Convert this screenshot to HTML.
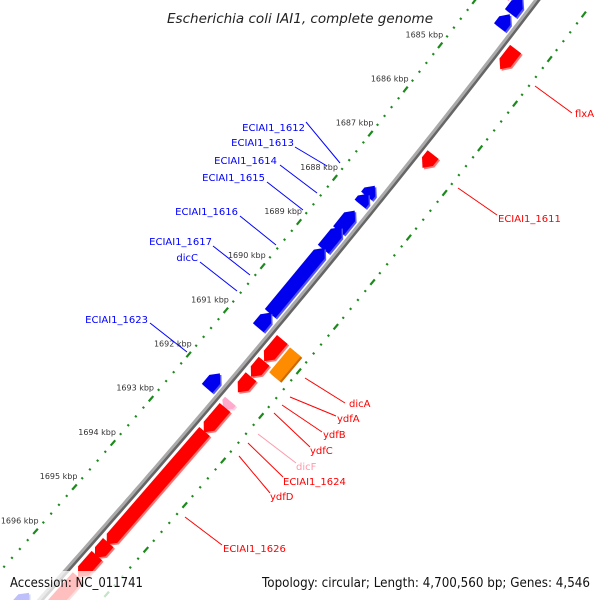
<!DOCTYPE html>
<html><head><meta charset="utf-8"><style>
html,body{margin:0;padding:0;background:#fff;width:600px;height:600px;overflow:hidden;}
svg{display:block;overflow:hidden;font-family:"DejaVu Sans","Liberation Sans",sans-serif;}
</style></head><body>
<svg id="map" width="600" height="600" viewBox="0 0 600 600" xmlns="http://www.w3.org/2000/svg">
<g id="backbone"></g>
<g id="ticks"></g>
<g id="genes"></g>
<g id="labels"></g>
<rect x="0" y="571" width="600" height="29" fill="#fff" fill-opacity="0.75"/>
<text x="300" y="23" text-anchor="middle" font-size="13" font-style="italic" fill="#222" textLength="266" lengthAdjust="spacingAndGlyphs">Escherichia coli IAI1, complete genome</text>
<text x="10" y="587" font-size="13" fill="#111" textLength="133" lengthAdjust="spacingAndGlyphs">Accession: NC_011741</text>
<text x="590" y="587" text-anchor="end" font-size="13" fill="#111" textLength="328" lengthAdjust="spacingAndGlyphs">Topology: circular; Length: 4,700,560 bp; Genes: 4,546</text>
</svg>
<script>
// ---- data ----
const geneStart  = [1683.20,1683.44,1683.80,1687.67,1687.85,1688.23,1688.60,1689.07,1690.53,1691.90,1696.85,
                    1684.23,1686.60,1690.76,1690.78,1691.25,1691.60,1692.15,1692.29,1692.56,1692.83,1695.33,1695.62,1696.10];
const geneEnd    = [1683.62,1683.78,1684.10,1687.90,1688.08,1688.68,1689.10,1690.55,1690.87,1692.24,1697.30,
                    1684.68,1686.90,1691.25,1691.34,1691.60,1691.95,1692.33,1692.72,1692.85,1695.37,1695.67,1696.10,1697.30];
const geneStrand = [-1,-1,-1,-1,-1,-1,-1,-1,-1,-1,-1, 1,1,1,0,1,1,1,1,1,1,1,1,1];
const geneKind   = ["pink2","blue","blue","blue","blue","blue","blue","blue","blue","blue","blue",
                    "red","red","red","orange","red","red","pink","red","red","red","red","red","red"];
const tickKbp = [1683,1684,1685,1686,1687,1688,1689,1690,1691,1692,1693,1694,1695,1696,1697];
const tickLabels = ["1683 kbp","1684 kbp","1685 kbp","1686 kbp","1687 kbp","1688 kbp","1689 kbp","1690 kbp","1691 kbp","1692 kbp","1693 kbp","1694 kbp","1695 kbp","1696 kbp","1697 kbp"];
const labelNames = ["ECIAI1_1612","ECIAI1_1613","ECIAI1_1614","ECIAI1_1615","ECIAI1_1616","ECIAI1_1617","dicC","ECIAI1_1623",
                    "flxA","ECIAI1_1611","dicA","ydfA","ydfB","ydfC","dicF","ECIAI1_1624","ydfD","ECIAI1_1626"];
const labelColors = ["#00f","#00f","#00f","#00f","#00f","#00f","#00f","#00f",
                     "#f00","#f00","#f00","#f00","#f00","#f00","#f9a","#f00","#f00","#f00"];
// ---- layout ----
const NS="http://www.w3.org/2000/svg";
const K0=1694, Y0=475, PXK=44.4;
function yOf(k){return Y0+(k-K0)*PXK;}
function xc(y){return 537-0.7633*y-0.0001083*y*y;}
function pt(yc,d){const s=-0.7633-0.0002166*yc;const n=Math.sqrt(1+s*s);return [xc(yc)+d/n, yc - s*d/n];}
function dyFor(yc,L){const s=-0.7633-0.0002166*yc;return L/Math.sqrt(1+s*s);}
function mk(tag,attrs,parent){const e=document.createElementNS(NS,tag);for(const k in attrs)e.setAttribute(k,attrs[k]);parent.appendChild(e);return e;}
const bb=document.getElementById('backbone');
function linePts(d){let a=[];for(let y=-10;y<=610;y+=5){a.push(pt(y,d).map(v=>v.toFixed(1)).join(','));}return a.join(' ');}
let e;
e=mk('polyline',{points:linePts(1.5),fill:'none',stroke:'#666','stroke-width':3},bb);


e=mk('polyline',{points:linePts(-1),fill:'none',stroke:'#aaa','stroke-width':3},bb);


// dotted scale lines
const tg=document.getElementById('ticks');
const DL=-49, DR=46;
for(let i=Math.round(1683*5);i<=1697.5*5;i++){
  const k=i/5, yc=yOf(k);
  [DL,DR].forEach(function(d){
    const major=(i%5===0);
    const L=major?3.5:1;
    const p1=pt(yc-dyFor(yc,L),d), p2=pt(yc+dyFor(yc,L),d);
    const ln=mk('line',{x1:p1[0],y1:p1[1],x2:p2[0],y2:p2[1],stroke:'#1a8a1a','stroke-width':2.2},tg);
    
    
  });
}
tickKbp.forEach(function(k,i){
  const p=pt(yOf(k),DL);
  const t=mk('text',{x:p[0]+3,y:p[1]-8,'text-anchor':'end','font-size':8,fill:'#333'},tg);
  t.textContent=tickLabels[i];
  
  
});
// genes
const gg=document.getElementById('genes');
const COL={blue:['#0000ee','#5555ff'],red:['#ff0000','#ff7777'],orange:['#ff8c00','#cc6a00'],pink:['#ffaacc','#ffd0e0'],pink2:['#ff44bb','#ff88d0']};
geneStart.forEach(function(s,i){
  const kind=geneKind[i];
  const lane=(kind==='blue'?-13:(kind==='pink2'?-31:(kind==='orange'?31:13)));
  const w=7;
  let y0=yOf(s), y1=yOf(geneEnd[i]);
  const st=geneStrand[i];
  const head=Math.min(dyFor(y0,8),(y1-y0)*0.6);
  let pts;
  if(st===1){
    pts=[pt(y0,lane-w),pt(y1-head,lane-w),pt(y1,lane),pt(y1-head,lane+w),pt(y0,lane+w)];
  }else if(st===-1){
    pts=[pt(y1,lane-w),pt(y0+head,lane-w),pt(y0,lane),pt(y0+head,lane+w),pt(y1,lane+w)];
  }else{
    pts=[pt(y0,lane-w),pt(y1,lane-w),pt(y1,lane+w),pt(y0,lane+w)];
  }
  const str=pts.map(p=>p[0].toFixed(1)+','+p[1].toFixed(1)).join(' ');
  const sh=mk('polygon',{points:str,fill:COL[kind][1],transform:'translate(1.5,1.5)'},gg);
  
  
  const pg=mk('polygon',{points:str,fill:COL[kind][0]},gg);
  
  
});
// labels with leader lines
const lg=document.getElementById('labels');
const labelText=[[305,131,'end'],[294,146,'end'],[277,164,'end'],[265,181,'end'],[238,215,'end'],[212,245,'end'],[198,261,'end'],[148,323,'end'],
  [575,117,'start'],[498,222,'start'],[349,407,'start'],[337,422,'start'],[323,438,'start'],[310,454,'start'],[296,470,'start'],[283,485,'start'],[270,500,'start'],[223,552,'start']];
const leaders=[[306,122,340,163],[295,147,327,166],[280,165,317,193],[267,182,303,210],[240,216,276,245],[213,246,250,275],[200,262,237,291],[150,323,187,352],
  [535,86,572,113],[458,188,497,215],[305,378,345,403],[290,397,336,416],[282,405,322,432],[274,413,310,447],[258,434,296,463],[248,443,283,477],[239,456,270,493],[185,517,222,545]];
labelNames.forEach(function(n,i){
  const l=leaders[i];
  const ln=mk('line',{x1:l[0],y1:l[1],x2:l[2],y2:l[3],stroke:labelColors[i],'stroke-width':1},lg);
  
  
  const p=labelText[i];
  const t=mk('text',{x:p[0],y:p[1],'text-anchor':p[2],'font-size':10,fill:labelColors[i]},lg);
  t.textContent=n;
  
  
});
</script>
</body></html>
